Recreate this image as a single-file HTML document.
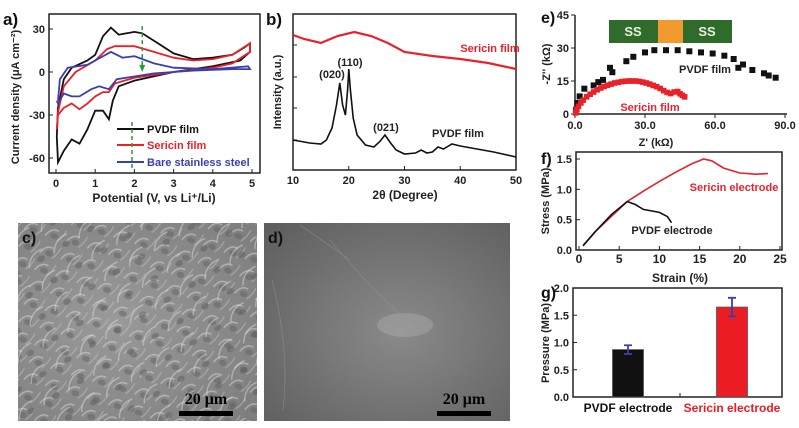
<!DOCTYPE html>
<html><head><meta charset="utf-8"><style>
body{margin:0;background:#fff;width:799px;height:423px;overflow:hidden;font-family:"Liberation Sans",sans-serif}
svg text{font-family:"Liberation Sans",sans-serif;font-weight:bold}
svg text.serif{font-family:"Liberation Serif",serif}
</style></head><body>
<svg id="fig" width="799" height="423" viewBox="0 0 799 423" xmlns="http://www.w3.org/2000/svg">
<defs>
<radialGradient id="gc" cx="0.4" cy="0.5" r="0.8"><stop offset="0" stop-color="#9a9a9a"/><stop offset="1" stop-color="#7c7c7c"/></radialGradient>
<radialGradient id="gd" cx="0.55" cy="0.55" r="0.75"><stop offset="0" stop-color="#8a8a8a"/><stop offset="1" stop-color="#5e5e5e"/></radialGradient>
<pattern id="pc" width="22" height="18" patternUnits="userSpaceOnUse" patternTransform="rotate(17)">
<path d="M2 14 Q6 4 14 6" stroke="#d8d8d8" stroke-width="1.4" fill="none"/>
<ellipse cx="11" cy="12" rx="4" ry="3" fill="#666"/>
<path d="M15 16 Q20 10 21 3" stroke="#c4c4c4" stroke-width="1.1" fill="none"/>
</pattern>
<pattern id="pc2" width="29" height="25" patternUnits="userSpaceOnUse" patternTransform="rotate(-31)">
<path d="M3 20 Q10 8 24 10" stroke="#e0e0e0" stroke-width="1.3" fill="none"/>
<ellipse cx="18" cy="18" rx="4" ry="3" fill="#5e5e5e"/>
</pattern>
</defs>
<g id="layer"></g>
</svg>
<script>
// ---- panel a data (CV) ----
const cvTicksX=[0,1,2,3,4,5];
const cvTicksY=[30,0,-30,-60];
const cvPVDF=[[0.05,-25],[0.2,-5],[0.4,3],[0.8,8],[1.0,12],[1.2,25],[1.4,31],[1.6,26],[1.8,27],[2.0,28],[2.2,27],[2.6,20],[3.0,13],[3.5,9],[4.0,10],[4.5,12],[4.8,17],[4.95,20],[4.95,14],[4.7,8],[4.0,4],[3.0,0],[2.0,-6],[1.6,-10],[1.45,-20],[1.35,-33],[1.2,-27],[1.0,-27],[0.8,-40],[0.6,-50],[0.4,-47],[0.2,-55],[0.05,-63],[0.02,-45],[0.05,-25]];
const cvSericin=[[0.05,-28],[0.2,-10],[0.5,0],[1.0,8],[1.3,16],[1.5,18],[2.0,18],[2.5,14],[3.0,10],[3.5,8],[4.0,9],[4.5,12],[4.95,20],[4.95,14],[4.5,6],[4.0,3],[3,0],[2,-4],[1.5,-8],[1.35,-14],[1.2,-14],[1.0,-17],[0.8,-22],[0.6,-26],[0.4,-22],[0.2,-25],[0.05,-30],[0.02,-40],[0.05,-28]];
const cvSteel=[[0.05,-20],[0.1,-5],[0.3,3],[0.8,5],[1.0,8],[1.4,14],[1.7,10],[2.0,11],[2.5,6],[3.0,3],[4.0,2],[4.9,4],[4.95,2],[4.5,2],[3.5,1],[2.5,-1],[1.55,-5],[1.35,-12],[1.1,-10],[0.9,-12],[0.6,-17],[0.4,-17],[0.2,-15],[0.05,-22],[0.02,-20]];
// ---- panel b data (XRD) ----
const xrdTicks=[10,20,30,40,50];
const xrdSericin=[[10,35],[12,39],[15,43],[18,36],[21,32],[24,36],[27,43],[30,52],[35,56],[40,59],[45,63],[50,69]];
const xrdPVDF=[[10,140],[13,143],[15,144],[16,140],[17,128],[17.8,105],[18.4,83],[18.9,105],[19.4,115],[19.8,90],[20,69],[20.3,90],[20.8,118],[21.5,135],[23,145],[24.5,147],[25.5,142],[26.5,135],[27.5,143],[28.5,150],[30,154],[32,153],[33,150],[34,153],[35,152],[36,147],[37,149],[38.5,144],[40,146],[42,148],[46,152],[50,157]];
// ---- panel e data (EIS) ----
const eisTicksX=[0,30,60,90];
const eisTicksY=[0,15,30,45];
const eisPVDF=[[0.5,2],[1,5],[2,8],[4,11.5],[8,13],[10,14.5],[12,15.5],[15,21],[16,19],[22,24],[25,26],[30,28],[34,29],[39,29],[44,29],[49,28.5],[54,28],[59,27.5],[64,26.5],[68,25],[70,21],[72,22.5],[76,20],[81,18.5],[83,17.5],[86,16.5]];
const eisSericin=[[0.3,0.5],[0.8,2],[1.5,3.5],[2.5,5],[3.5,6.3],[5,7.8],[6.5,9],[8,10],[9.5,11],[11,11.8],[12.5,12.5],[14,13.1],[15.5,13.6],[17,14.1],[18.5,14.4],[20,14.7],[21.5,14.9],[23,15],[24.5,15],[26,15],[27.5,14.8],[29,14.5],[30.5,14.1],[32,13.6],[33.5,13],[35,12.4],[36.5,11.6],[38,10.6],[39.5,9.8],[41,9.3],[42.5,10],[44,10.2],[45,9.2],[46,8.5],[47,7.8]];
// ---- panel f data (stress-strain) ----
const ssTicksX=[0,5,10,15,20,25];
const ssTicksY=[0.0,0.5,1.0,1.5];
const ssSericin=[[0.5,0.07],[2,0.3],[4,0.55],[6,0.8],[8,0.97],[10,1.13],[12,1.28],[14,1.42],[15.5,1.5],[16.5,1.47],[18,1.35],[20,1.27],[22,1.25],[23.5,1.26]];
const ssPVDF=[[0.5,0.07],[2,0.3],[4,0.58],[6,0.8],[7,0.75],[8,0.67],[10,0.62],[11,0.55],[11.5,0.45]];
// ---- panel g data (bars) ----
const barCats=["PVDF electrode","Sericin electrode"];
const barVals=[0.87,1.65];
const barErr=[0.08,0.17];
const barTicksY=[0.0,0.5,1.0,1.5,2.0];

const NS="http://www.w3.org/2000/svg";
const L=document.getElementById('layer');
function mk(tag,attrs,parent){const e=document.createElementNS(NS,tag);for(const k in attrs)e.setAttribute(k,attrs[k]);(parent||L).appendChild(e);return e;}
function txt(x,y,s,opt){const e=mk('text',Object.assign({x:x,y:y,'font-size':11,fill:'#222','text-anchor':'middle'},opt||{}));e.textContent=s;return e;}
function lin(d0,d1,r0,r1){return v=>r0+(v-d0)/(d1-d0)*(r1-r0);}
function pathOf(pts,sx,sy){return pts.map((p,i)=>(i?'L':'M')+sx(p[0]).toFixed(1)+' '+sy(p[1]).toFixed(1)).join(' ');}

// ===== Panel a =====
{
const sx=lin(0,5,56,252), sy=lin(0,30,72,29);
const g=mk('g',{});


const box=mk('rect',{x:49,y:14,width:211,height:159,fill:'none',stroke:'#222','stroke-width':1.5},g);

cvTicksX.forEach(v=>{mk('line',{x1:sx(v),x2:sx(v),y1:173,y2:169,stroke:'#222'},g);const t=txt(sx(v),187,String(v),{'font-size':11});});
cvTicksY.forEach(v=>{mk('line',{x1:49,x2:53,y1:sy(v),y2:sy(v),stroke:'#222'},g);const t=txt(45,sy(v)+4,String(v),{'text-anchor':'end'});});
[[cvPVDF,'#111','cv-pvdf-curve'],[cvSericin,'#e8212b','cv-sericin-curve'],[cvSteel,'#3a3fb0','cv-steel-curve']].forEach(s=>{const p=mk('path',{d:pathOf(s[0],sx,sy),fill:'none',stroke:s[1],'stroke-width':1.8},g);});
mk('line',{x1:sx(2.2),x2:sx(2.2),y1:sy(32),y2:sy(3),stroke:'#2a9a3a','stroke-width':1.5,'stroke-dasharray':'4,3'},g);
mk('path',{d:`M${sx(2.2)-3} ${sy(5)} L${sx(2.2)+3} ${sy(5)} L${sx(2.2)} ${sy(0)} Z`,fill:'#2a9a3a'},g);
const leg=[['PVDF film','#111',129],['Sericin film','#e8212b',145],['Bare stainless steel','#3a3fb0',162]];
leg.forEach(l=>{const ln=mk('line',{x1:117,x2:144,y1:l[2],y2:l[2],stroke:l[1],'stroke-width':2},g);const t=txt(147,l[2]+4,l[0],{'text-anchor':'start',fill:l[1],'font-size':11});});
mk('line',{x1:132,x2:132,y1:122,y2:170,stroke:'#2a9a3a','stroke-width':1.5,'stroke-dasharray':'4,3'},g);
const xt=txt(154,202,'Potential (V, vs Li⁺/Li)',{'font-size':12});
const yt=txt(0,0,'Current density (μA cm⁻²)',{'font-size':11,transform:'translate(19,97) rotate(-90)'});
const lb=txt(3,25,'a)',{'text-anchor':'start','font-size':17,fill:'#111'});
}
// ===== Panel b =====
{
const sx=lin(10,50,293,516);
const g=mk('g',{});


mk('rect',{x:293,y:14,width:223,height:156,fill:'none',stroke:'#222','stroke-width':1.5},g);
xrdTicks.forEach(v=>{mk('line',{x1:sx(v),x2:sx(v),y1:170,y2:166,stroke:'#222'},g);const t=txt(sx(v),184,String(v));});
[45,77,108,140].forEach(y=>mk('line',{x1:293,x2:297,y1:y,y2:y,stroke:'#222'},g));
const p1=mk('path',{d:pathOf(xrdSericin,sx,v=>v),fill:'none',stroke:'#e8212b','stroke-width':2.2},g);
const p2=mk('path',{d:pathOf(xrdPVDF,sx,v=>v),fill:'none',stroke:'#111','stroke-width':1.6},g);
[['(020)',332,78,'#222'],['(110)',350,66,'#222'],['(021)',386,131,'#222'],['PVDF film',458,137,'#222'],['Sericin film',490,52,'#e8212b']].forEach(a=>{const t=txt(a[1],a[2],a[0],{fill:a[3]});});
const xt=txt(405,199,'2θ (Degree)',{'font-size':12});
const yt=txt(0,0,'Intensity (a.u.)',{'font-size':11,transform:'translate(281,92) rotate(-90)'});
const lb=txt(266,25,'b)',{'text-anchor':'start','font-size':17,fill:'#111'});
}
// ===== Panel e =====
{
const sx=lin(0,90,575,785), sy=lin(0,45,114,15);
const g=mk('g',{});


mk('line',{x1:575,x2:575,y1:15,y2:114,stroke:'#222','stroke-width':1.5},g);
mk('line',{x1:575,x2:787,y1:114,y2:114,stroke:'#222','stroke-width':1.5},g);
eisTicksX.forEach(v=>{mk('line',{x1:sx(v),x2:sx(v),y1:114,y2:118,stroke:'#222'},g);const t=txt(sx(v),129,v.toFixed(1));});
eisTicksY.forEach(v=>{mk('line',{x1:571,x2:575,y1:sy(v),y2:sy(v),stroke:'#222'},g);const t=txt(569,sy(v)+4,String(v),{'text-anchor':'end'});});
const ss1=mk('rect',{x:609,y:20,width:49,height:23,fill:'#2f6b2a'},g);
const fm=mk('rect',{x:658,y:20,width:25,height:23,fill:'#f29a2e'},g);
mk('rect',{x:683,y:20,width:49,height:23,fill:'#2f6b2a'},g);
txt(633,36,'SS',{fill:'#e8f0e0','font-size':13});txt(707,36,'SS',{fill:'#e8f0e0','font-size':13});
eisPVDF.forEach(p=>{const r=mk('rect',{x:sx(p[0])-3,y:sy(p[1])-3,width:6,height:6,fill:'#111'},g);});
eisSericin.forEach(p=>{const r=mk('rect',{x:sx(p[0])-2.8,y:sy(p[1])-2.8,width:5.6,height:5.6,fill:'#e8212b'},g);});
txt(705,73,'PVDF film',{'font-size':11});txt(650,111,'Sericin film',{'font-size':11,fill:'#e8212b'});
const xt=txt(656,146,"Z' (kΩ)",{'font-size':11});
const yt=txt(0,0,"-Z'' (kΩ)",{'font-size':11,transform:'translate(550,64) rotate(-90)'});
const lb=txt(541,23,'e)',{'text-anchor':'start','font-size':16,fill:'#111'});
}
// ===== Panel f =====
{
const sx=lin(0,25,579,780), sy=lin(0,1.5,250,159);
const g=mk('g',{});


mk('rect',{x:576,y:152,width:206,height:98,fill:'none',stroke:'#222','stroke-width':1.5},g);
ssTicksX.forEach(v=>{mk('line',{x1:sx(v),x2:sx(v),y1:250,y2:246,stroke:'#222'},g);const t=txt(sx(v),263,String(v),{'font-size':12});});
ssTicksY.forEach(v=>{mk('line',{x1:576,x2:580,y1:sy(v),y2:sy(v),stroke:'#222'},g);const t=txt(572,sy(v)+4,v.toFixed(1),{'text-anchor':'end'});});
const p1=mk('path',{d:pathOf(ssSericin,sx,sy),fill:'none',stroke:'#e8212b','stroke-width':1.6},g);
const p2=mk('path',{d:pathOf(ssPVDF,sx,sy),fill:'none',stroke:'#111','stroke-width':1.6},g);
txt(734,191,'Sericin electrode',{fill:'#e8212b'});txt(672,234,'PVDF electrode');
const xt=txt(680,282,'Strain (%)',{'font-size':12});
const yt=txt(0,0,'Stress (MPa)',{'font-size':11,transform:'translate(549,201) rotate(-90)'});
const lb=txt(541,164,'f)',{'text-anchor':'start','font-size':16,fill:'#111'});
}
// ===== Panel g =====
{
const sy=lin(0,2,397,288);
const cx=[628,732], bw=31, cols=['#111','#ec1c24'], lc=['#111','#ec1c24'];
const g=mk('g',{});


mk('rect',{x:573,y:288,width:209,height:109,fill:'none',stroke:'#222','stroke-width':1.5},g);
barTicksY.forEach(v=>{mk('line',{x1:573,x2:577,y1:sy(v),y2:sy(v),stroke:'#222'},g);const t=txt(569,sy(v)+4,v.toFixed(1),{'text-anchor':'end'});});
mk('line',{x1:680,x2:680,y1:397,y2:393,stroke:'#222'},g);
barVals.forEach((v,i)=>{
 const r=mk('rect',{x:cx[i]-bw/2,y:sy(v),width:bw,height:397-sy(v),fill:cols[i],stroke:'#555','stroke-width':0.8},g);
 
 
 const e=barErr[i];
 const eb=mk('path',{d:`M${cx[i]} ${sy(v+e)} L${cx[i]} ${sy(v-e)} M${cx[i]-4} ${sy(v+e)} L${cx[i]+4} ${sy(v+e)} M${cx[i]-4} ${sy(v-e)} L${cx[i]+4} ${sy(v-e)}`,stroke:'#3a3fb0','stroke-width':1.8,fill:'none'},g);
 
 
 const t=txt(cx[i],412,barCats[i],{'font-size':12,fill:lc[i]});
 
 
});
const yt=txt(0,0,'Pressure (MPa)',{'font-size':11,transform:'translate(549,343) rotate(-90)'});
const lb=txt(541,298,'g)',{'text-anchor':'start','font-size':16,fill:'#111'});
}
// ===== SEM images c, d =====
{
const c=mk('g',{});


mk('rect',{x:18,y:223,width:239,height:198,fill:'url(#gc)'},c);
mk('rect',{x:18,y:223,width:239,height:198,fill:'url(#pc)',opacity:0.55},c);
mk('rect',{x:18,y:223,width:239,height:198,fill:'url(#pc2)',opacity:0.5},c);
mk('rect',{x:179,y:411,width:54,height:5,fill:'#000'},c);
const t1=txt(206,404,'20 μm',{'class':'serif','font-size':16,fill:'#000'});
const l1=txt(22,243,'c)',{'text-anchor':'start','font-size':16,fill:'#111'});
const d=mk('g',{});


mk('rect',{x:264,y:223,width:246,height:198,fill:'url(#gd)'},d);
mk('ellipse',{cx:405,cy:325,rx:28,ry:12,fill:'#b8b8b8',opacity:0.35},d);
mk('path',{d:'M272 280 Q290 350 283 410 M330 240 Q380 300 420 330 M300 225 L350 260',stroke:'#999',fill:'none','stroke-width':0.8,opacity:0.5},d);
mk('rect',{x:437,y:411,width:54,height:5,fill:'#000'},d);
const t2=txt(464,404,'20 μm',{'class':'serif','font-size':16,fill:'#000'});
const l2=txt(268,243,'d)',{'text-anchor':'start','font-size':16,fill:'#111'});
}
</script>
</body></html>
